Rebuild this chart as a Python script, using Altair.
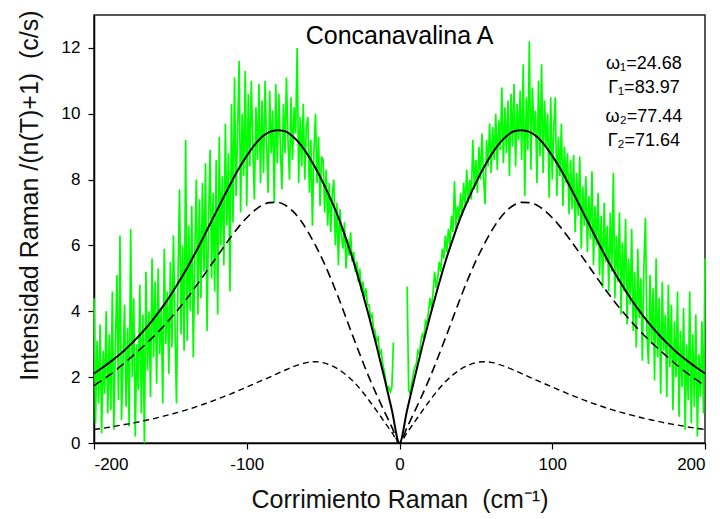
import altair as alt
import pandas as pd

# ---------------- data ----------------
# measured spectrum (green), 1 cm^-1 steps
GREEN_LEFT_START = -200   # x of first value, step 1
GREEN_LEFT = [
    4.4, 0.6, 3.1, 1.2, 3.6, 0.3, 2.8, 1.5, 4.0, 0.9,
    3.3, 1.0, 4.6, 0.4, 2.9, 5.1, 1.3, 6.3, 0.7, 2.5,
    4.2, 1.1, 3.5, 0.5, 6.5, 2.0, 4.4, 0.2, 3.0, 1.6,
    4.8, 0.9, 3.9, 0.0, 5.2, 2.2, 4.0, 1.4, 5.6, 2.6,
    4.9, 1.8, 5.3, 2.7, 4.1, 1.2, 5.9, 3.0, 4.6, 2.1,
    5.5, 2.9, 6.3, 3.6, 1.2, 5.0, 7.7, 3.3, 6.0, 2.8,
    9.2, 3.1, 6.6, 4.0, 7.2, 2.6, 5.8, 8.0, 3.9, 7.4,
    4.4, 7.9, 5.2, 8.5, 3.4, 6.8, 8.9, 5.0, 7.6, 4.6,
    8.6, 3.9, 9.3, 6.0, 8.1, 5.4, 9.7, 6.6, 8.8, 4.6,
    10.3, 6.7, 11.1, 7.5, 9.4, 11.6, 7.0, 10.0, 8.1, 11.3,
    7.2, 10.6, 8.4, 11.0, 9.0, 7.4, 10.2, 8.6, 10.9, 7.9,
    10.4, 8.2, 11.0, 9.1, 7.6, 10.7, 8.8, 10.1, 7.3, 10.9,
    8.5, 10.6, 9.0, 7.7, 10.3, 8.8, 11.1, 9.2, 8.0, 10.5,
    8.6, 10.2, 9.4, 12.0, 7.9, 9.9, 8.4, 10.3, 8.0, 9.6,
    9.9, 7.6, 9.2, 6.6, 8.9, 10.0, 7.9, 9.3, 7.2, 8.7,
    8.6, 7.0, 8.3, 6.6, 7.9, 6.4, 7.6, 8.0, 6.0, 7.3,
    5.4, 7.1, 6.3, 5.9, 6.7, 5.3, 6.2, 5.7, 6.4, 5.5,
    5.8, 5.2, 5.5, 4.9, 5.3, 4.6, 4.9, 4.4, 4.7, 4.2,
    4.2, 3.8, 3.9, 3.5, 3.4, 3.1, 3.2, 2.7, 2.8, 2.4,
    2.2, 1.9, 1.6, 1.7, 1.55, 1.7, 3.05,
]
GREEN_RIGHT_START = 5     # x of first value, step 1
GREEN_RIGHT = [
    4.75, 1.6, 1.5, 1.8, 2.1, 2.3, 2.4, 2.8, 2.7, 3.1,
    3.3, 3.2, 3.7, 3.6, 4.0, 4.4, 4.1, 4.6, 5.2, 4.7,
    5.0, 5.5, 5.2, 5.9, 5.6, 6.3, 5.8, 6.5, 6.0, 6.9,
    6.4, 7.95, 6.5, 7.2, 6.7, 7.6, 6.9, 7.9, 7.2, 8.3,
    7.3, 8.0, 7.4, 9.2, 7.7, 8.6, 7.6, 9.0, 8.0, 9.4,
    8.1, 7.25, 9.2, 8.4, 9.7, 8.2, 9.6, 8.6, 10.0, 8.3,
    9.8, 8.9, 10.8, 8.5, 10.2, 8.8, 10.4, 8.1, 10.6, 9.0,
    10.9, 8.4, 10.3, 9.2, 10.7, 8.6, 11.5, 7.5, 10.5, 8.9,
    12.2, 8.3, 10.8, 9.4, 10.1, 7.9, 11.0, 8.7, 11.5, 8.2,
    10.4, 9.0, 10.0, 7.45, 10.5, 8.0, 9.6, 10.5, 7.5, 9.3,
    8.1, 9.7, 7.2, 9.0, 7.9, 8.8, 6.95, 8.6, 7.1, 8.75,
    6.4, 8.2, 6.9, 8.7, 5.9, 7.8, 6.6, 8.1, 5.8, 7.5,
    6.2, 8.25, 5.4, 7.2, 6.0, 7.6, 5.1, 6.9, 4.7, 7.3,
    5.5, 6.6, 4.6, 7.0, 5.2, 8.2, 4.4, 6.3, 4.9, 7.0,
    3.9, 6.1, 4.6, 6.8, 3.6, 5.6, 4.2, 6.5, 3.4, 5.2,
    2.9, 5.9, 3.8, 5.0, 2.5, 5.4, 6.84, 3.3, 2.4, 5.1,
    3.0, 4.7, 1.9, 5.6, 2.6, 4.4, 1.5, 4.9, 2.8, 3.9,
    1.4, 4.8, 2.3, 4.2, 1.0, 3.7, 2.0, 4.6, 0.8, 3.4,
    1.7, 4.1, 0.4, 3.0, 1.3, 4.6, 0.6, 3.3, 1.1, 3.9,
    0.2, 2.7, 1.4, 3.7, 0.9, 5.6,
]

# fitted curves, read every 5 cm^-1 for |x| (the fits are symmetric about 0)
FIT_ABS_X = [0, 5, 10, 15, 20, 25, 30, 35, 40, 45, 50, 55, 60, 65, 70, 75, 80, 85, 90, 95,
             100, 105, 110, 115, 120, 125, 130, 135, 140, 145, 150, 155, 160, 165, 170, 175,
             180, 185, 190, 195, 200]
FIT_TOTAL = [0.0, 1.0, 2.0, 2.95, 3.85, 4.7, 5.5, 6.2, 6.85, 7.4, 7.9, 8.35, 8.75, 9.08,
             9.32, 9.47, 9.5, 9.45, 9.3, 9.05, 8.72, 8.35, 7.93, 7.48, 7.02, 6.56, 6.1, 5.66,
             5.24, 4.85, 4.48, 4.14, 3.83, 3.54, 3.28, 3.04, 2.82, 2.62, 2.44, 2.27, 2.11]
FIT_COMP2 = [0.0, 0.48, 0.97, 1.47, 2.0, 2.58, 3.18, 3.8, 4.42, 5.0, 5.53, 6.0, 6.42, 6.78,
             7.05, 7.23, 7.31, 7.3, 7.22, 7.06, 6.84, 6.58, 6.28, 5.96, 5.63, 5.3, 4.97, 4.65,
             4.34, 4.05, 3.78, 3.52, 3.28, 3.05, 2.84, 2.63, 2.43, 2.24, 2.06, 1.9, 1.74]
FIT_COMP1 = [0.0, 0.32, 0.65, 0.98, 1.3, 1.6, 1.86, 2.07, 2.24, 2.36, 2.44, 2.47, 2.45, 2.39,
             2.31, 2.21, 2.11, 2.0, 1.9, 1.8, 1.7, 1.6, 1.5, 1.41, 1.32, 1.23, 1.15, 1.07,
             1.0, 0.93, 0.87, 0.81, 0.75, 0.7, 0.65, 0.6, 0.56, 0.52, 0.48, 0.44, 0.41]

TITLE = "Concanavalina A"
PARAM_LABELS = ["\u03c9\u2081=24.68", "\u0393\u2081=83.97", "\u03c9\u2082=77.44", "\u0393\u2082=71.64"]
PARAM_X = [160, 160, 160, 160]
PARAM_Y = [11.5, 10.77, 9.91, 9.17]
X_TICKS = [-200, -100, 0, 100, 200]
Y_TICKS = [0, 2, 4, 6, 8, 10, 12]
X_TITLE = "Corrimiento Raman \u00a0(cm\u207b\u00b9)"
Y_TITLE = "Intensidad Raman /(n(T)+1) \u00a0(c/s)"

# ---------------- tables ----------------
green = pd.DataFrame(
    [{"x": GREEN_LEFT_START + i, "y": v, "side": "L"} for i, v in enumerate(GREEN_LEFT)]
    + [{"x": GREEN_RIGHT_START + i, "y": v, "side": "R"} for i, v in enumerate(GREEN_RIGHT)]
)
fit_rows = []
for i, ax in enumerate(FIT_ABS_X):
    for sgn in ([1] if ax == 0 else [-1, 1]):
        fit_rows.append({"x": sgn * ax, "total": FIT_TOTAL[i], "c2": FIT_COMP2[i], "c1": FIT_COMP1[i]})
fits = pd.DataFrame(fit_rows).sort_values("x")
params = pd.DataFrame({"x": PARAM_X, "y": PARAM_Y, "t": PARAM_LABELS})
title_df = pd.DataFrame({"x": [0], "y": [12.36], "t": [TITLE]})

FONT = "Liberation Sans"
xs = alt.Scale(domain=[-200, 200], nice=False)
ys = alt.Scale(domain=[0, 13], nice=False)

xenc = alt.X("x:Q", scale=xs, axis=alt.Axis(
    values=X_TICKS, title=X_TITLE, titlePadding=15, labelPadding=7,
    labelExpr="datum.value < 0 ? '-' + abs(datum.value) : '' + datum.value"))
yenc = alt.Y("y:Q", scale=ys, axis=alt.Axis(
    values=Y_TICKS, title=Y_TITLE, titlePadding=19, labelPadding=8, titleY=180))

g = alt.Chart(green).mark_line(color="#00FF00", strokeWidth=1.7).encode(
    x=xenc, y=yenc, detail="side:N", order="x:Q")

total = alt.Chart(fits).mark_line(color="black", strokeWidth=2, interpolate="monotone").encode(
    x=alt.X("x:Q", scale=xs), y=alt.Y("total:Q", scale=ys), order="x:Q")
c2 = alt.Chart(fits).mark_line(color="black", strokeWidth=1.6, strokeDash=[9, 5],
                               interpolate="monotone").encode(
    x=alt.X("x:Q", scale=xs), y=alt.Y("c2:Q", scale=ys), order="x:Q")
c1 = alt.Chart(fits).mark_line(color="black", strokeWidth=1.4, strokeDash=[6, 4],
                               interpolate="monotone").encode(
    x=alt.X("x:Q", scale=xs), y=alt.Y("c1:Q", scale=ys), order="x:Q")

ttl = alt.Chart(title_df).mark_text(font=FONT, fontSize=25, color="black").encode(
    x=alt.X("x:Q", scale=xs), y=alt.Y("y:Q", scale=ys), text="t:N")
par = alt.Chart(params).mark_text(font=FONT, fontSize=18, color="black").encode(
    x=alt.X("x:Q", scale=xs), y=alt.Y("y:Q", scale=ys), text="t:N")

chart = alt.layer(g, c2, c1, total, ttl, par).properties(
    width=611, height=428,
    autosize=alt.AutoSizeParams(type="none"),
    padding={"left": 94, "top": 15, "right": 15, "bottom": 76},
    background="white",
).configure_view(
    stroke="#222222", strokeWidth=1.5
).configure_axis(
    grid=False, domainColor="black", domainWidth=1.5, tickColor="black", tickSize=6,
    tickWidth=1.2,
    labelFont=FONT, labelFontSize=17, labelColor="black",
    titleFont=FONT, titleFontSize=25, titleFontWeight="normal", titleColor="#111111",
)

chart.save("out.html", embed_options={"renderer": "svg", "actions": False})
